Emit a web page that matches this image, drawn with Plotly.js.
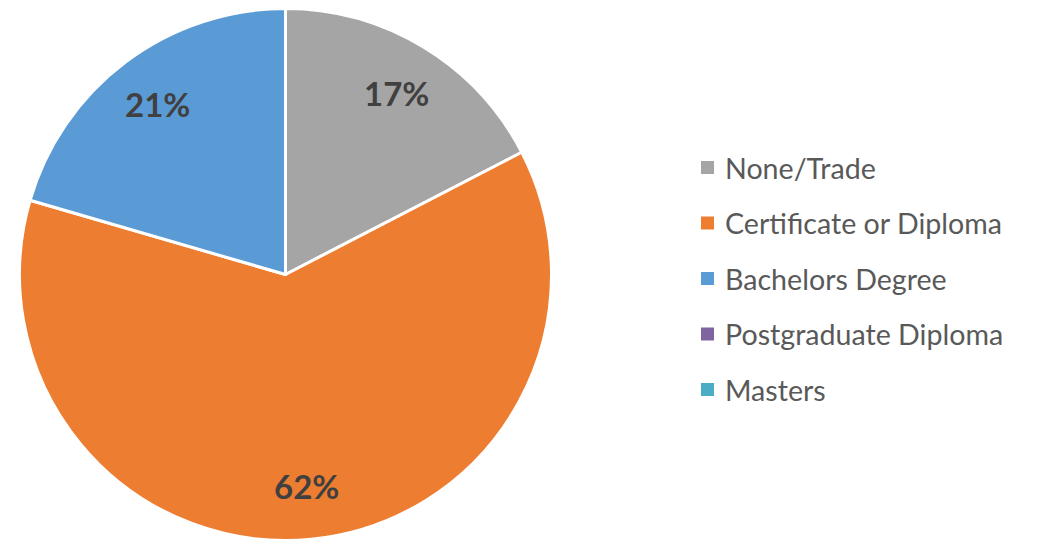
<!DOCTYPE html>
<html>
<head>
<meta charset="utf-8">
<script src="https://cdn.plot.ly/plotly-3.0.1.min.js"></script>
<style>html,body{margin:0;padding:0;background:#fff;}#chart{width:1040px;height:541px;}</style>
</head>
<body>
<div id="chart"></div>
<script>
const categories = ["None/Trade", "Certificate or Diploma", "Bachelors Degree", "Postgraduate Diploma", "Masters"];
const values = [17.4, 62.1, 20.5, 0, 0];
const colors = ["#A5A5A5", "#ED7D31", "#5B9BD5", "#8064A2", "#4BACC6"];

const W = 1040, H = 541;
const cx = 285.5, cy = 274.5, R = 266;
const trace = {
  type: "pie",
  labels: categories,
  values: values,
  sort: false,
  direction: "clockwise",
  rotation: 0,
  marker: {colors: colors, line: {color: "#ffffff", width: 3}},
  textinfo: "none",
  hoverinfo: "label+percent",
  showlegend: false,
  domain: {x: [(cx - R) / W, (cx + R) / W], y: [1 - (cy + R) / H, 1 - (cy - R) / H]}
};

const annotations = [];
const shapes = [];
// data labels placed along each slice's mid-angle (clockwise from 12 o'clock)
const total = values.reduce((a, b) => a + b, 0);
let cum = 0;
values.forEach((v, i) => {
  const mid = (cum + v / 2) / total * 2 * Math.PI;
  cum += v;
  if (v <= 0) return;
  const r = 0.8 * R;
  const px = cx + r * Math.sin(mid);
  const py = cy - r * Math.cos(mid);
  annotations.push({xref: "paper", yref: "paper", x: px / W, y: 1 - py / H,
    xanchor: "center", yanchor: "middle", showarrow: false,
    text: Math.round(v / total * 100) + "%",
    font: {family: "Lato, sans-serif", size: 33, color: "#404040", weight: "bold"}});
});

categories.forEach((c, i) => {
  const yc = 167.5 + 55.5 * i;
  shapes.push({type: "rect", xref: "paper", yref: "paper",
    x0: 701 / W, x1: 714 / W, y0: 1 - (yc + 6.5) / H, y1: 1 - (yc - 6.5) / H,
    fillcolor: colors[i], line: {width: 0}});
  annotations.push({xref: "paper", yref: "paper", x: 723 / W, y: 1 - yc / H,
    xanchor: "left", yanchor: "middle", showarrow: false, text: c,
    font: {family: "Lato, sans-serif", size: 28.6, color: "#595959"}});
});

const layout = {
  width: W, height: H,
  margin: {l: 0, r: 0, t: 0, b: 0},
  paper_bgcolor: "#ffffff",
  showlegend: false,
  annotations: annotations,
  shapes: shapes
};
Plotly.newPlot("chart", [trace], layout, {displayModeBar: false, staticPlot: true});
</script>
</body>
</html>
